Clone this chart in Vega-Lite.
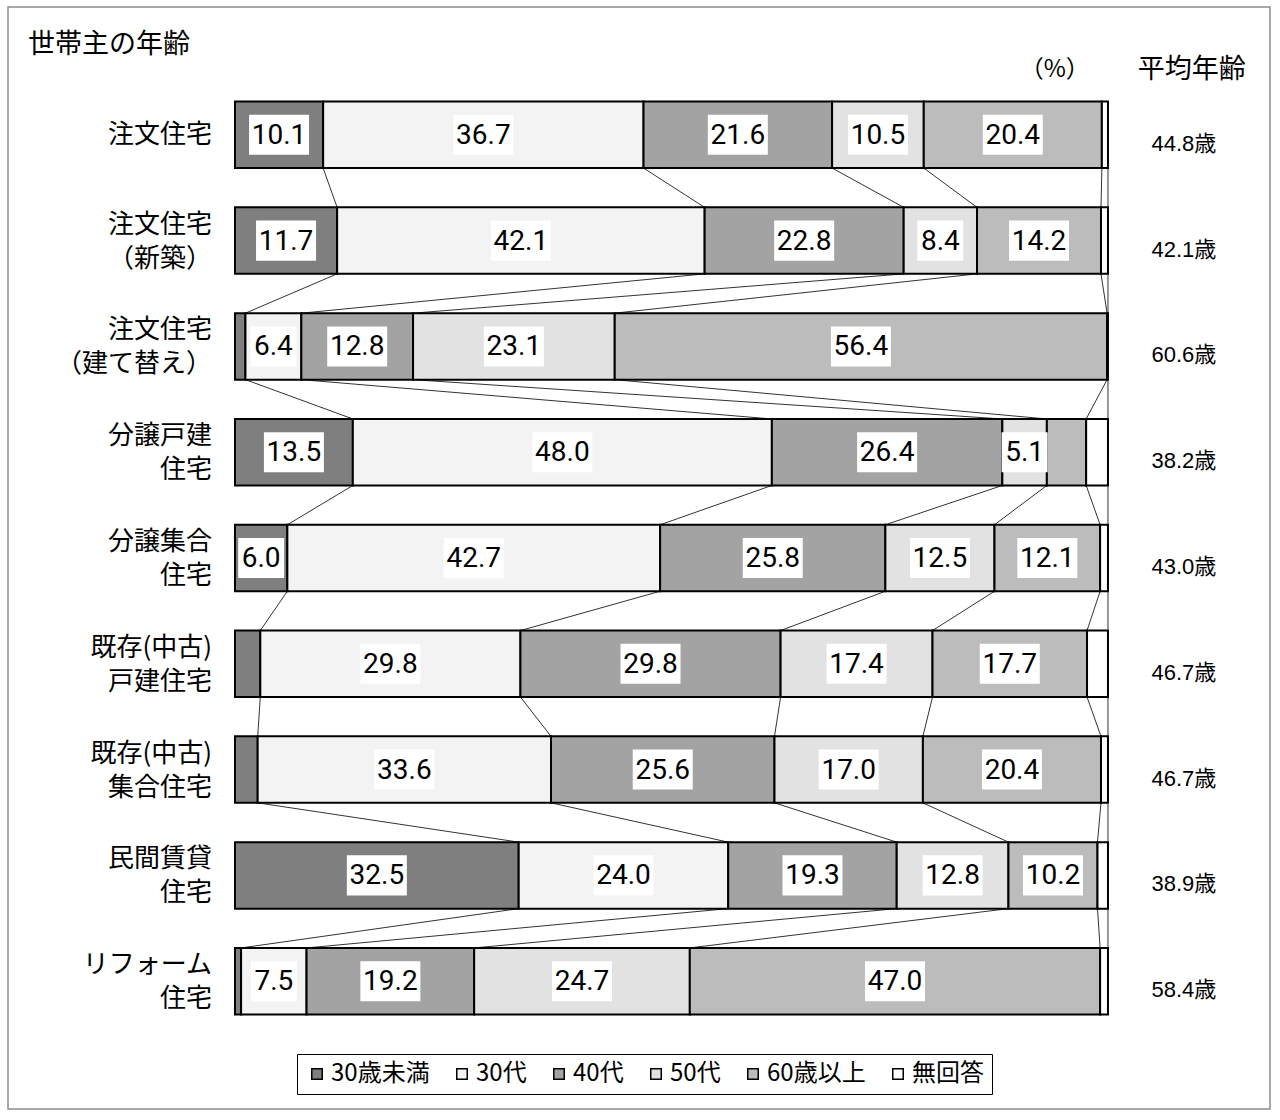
{
  "$schema": "https://vega.github.io/schema/vega-lite/v6.json",
  "description": "世帯主の年齢: 100% stacked bars with connector lines",
  "autosize": {"type": "fit", "contains": "padding"},
  "width": 1280,
  "height": 1120,
  "padding": {"left": 8, "top": 7, "right": 10, "bottom": 11},
  "background": "white",
  "config": {
    "view": {"stroke": "#8c8c8c", "strokeWidth": 1.5},
    "axis": {"disable": true},
    "font": "Noto Sans CJK JP",
    "text": {"font": "Noto Sans CJK JP", "color": "black"}
  },
  "datasets": {
    "bars": [
      {"c": "注文住宅", "s": "30歳未満", "v": 10.1},
      {"c": "注文住宅", "s": "30代", "v": 36.7},
      {"c": "注文住宅", "s": "40代", "v": 21.6},
      {"c": "注文住宅", "s": "50代", "v": 10.5},
      {"c": "注文住宅", "s": "60歳以上", "v": 20.4},
      {"c": "注文住宅", "s": "無回答", "v": 0.7},
      {"c": "注文住宅（新築）", "s": "30歳未満", "v": 11.7},
      {"c": "注文住宅（新築）", "s": "30代", "v": 42.1},
      {"c": "注文住宅（新築）", "s": "40代", "v": 22.8},
      {"c": "注文住宅（新築）", "s": "50代", "v": 8.4},
      {"c": "注文住宅（新築）", "s": "60歳以上", "v": 14.2},
      {"c": "注文住宅（新築）", "s": "無回答", "v": 0.8},
      {"c": "注文住宅（建て替え）", "s": "30歳未満", "v": 1.2},
      {"c": "注文住宅（建て替え）", "s": "30代", "v": 6.4},
      {"c": "注文住宅（建て替え）", "s": "40代", "v": 12.8},
      {"c": "注文住宅（建て替え）", "s": "50代", "v": 23.1},
      {"c": "注文住宅（建て替え）", "s": "60歳以上", "v": 56.4},
      {"c": "注文住宅（建て替え）", "s": "無回答", "v": 0.1},
      {"c": "分譲戸建住宅", "s": "30歳未満", "v": 13.5},
      {"c": "分譲戸建住宅", "s": "30代", "v": 48.0},
      {"c": "分譲戸建住宅", "s": "40代", "v": 26.4},
      {"c": "分譲戸建住宅", "s": "50代", "v": 5.1},
      {"c": "分譲戸建住宅", "s": "60歳以上", "v": 4.5},
      {"c": "分譲戸建住宅", "s": "無回答", "v": 2.5},
      {"c": "分譲集合住宅", "s": "30歳未満", "v": 6.0},
      {"c": "分譲集合住宅", "s": "30代", "v": 42.7},
      {"c": "分譲集合住宅", "s": "40代", "v": 25.8},
      {"c": "分譲集合住宅", "s": "50代", "v": 12.5},
      {"c": "分譲集合住宅", "s": "60歳以上", "v": 12.1},
      {"c": "分譲集合住宅", "s": "無回答", "v": 0.9},
      {"c": "既存（中古）戸建住宅", "s": "30歳未満", "v": 2.9},
      {"c": "既存（中古）戸建住宅", "s": "30代", "v": 29.8},
      {"c": "既存（中古）戸建住宅", "s": "40代", "v": 29.8},
      {"c": "既存（中古）戸建住宅", "s": "50代", "v": 17.4},
      {"c": "既存（中古）戸建住宅", "s": "60歳以上", "v": 17.7},
      {"c": "既存（中古）戸建住宅", "s": "無回答", "v": 2.4},
      {"c": "既存（中古）集合住宅", "s": "30歳未満", "v": 2.6},
      {"c": "既存（中古）集合住宅", "s": "30代", "v": 33.6},
      {"c": "既存（中古）集合住宅", "s": "40代", "v": 25.6},
      {"c": "既存（中古）集合住宅", "s": "50代", "v": 17.0},
      {"c": "既存（中古）集合住宅", "s": "60歳以上", "v": 20.4},
      {"c": "既存（中古）集合住宅", "s": "無回答", "v": 0.8},
      {"c": "民間賃貸住宅", "s": "30歳未満", "v": 32.5},
      {"c": "民間賃貸住宅", "s": "30代", "v": 24.0},
      {"c": "民間賃貸住宅", "s": "40代", "v": 19.3},
      {"c": "民間賃貸住宅", "s": "50代", "v": 12.8},
      {"c": "民間賃貸住宅", "s": "60歳以上", "v": 10.2},
      {"c": "民間賃貸住宅", "s": "無回答", "v": 1.2},
      {"c": "リフォーム住宅", "s": "30歳未満", "v": 0.7},
      {"c": "リフォーム住宅", "s": "30代", "v": 7.5},
      {"c": "リフォーム住宅", "s": "40代", "v": 19.2},
      {"c": "リフォーム住宅", "s": "50代", "v": 24.7},
      {"c": "リフォーム住宅", "s": "60歳以上", "v": 47.0},
      {"c": "リフォーム住宅", "s": "無回答", "v": 0.9}
    ],
    "cats": [
      {"c": "注文住宅", "label": "注文住宅", "avg": 44.8},
      {"c": "注文住宅（新築）", "label": "注文住宅\n（新築）", "avg": 42.1},
      {"c": "注文住宅（建て替え）", "label": "注文住宅\n（建て替え）", "avg": 60.6},
      {"c": "分譲戸建住宅", "label": "分譲戸建\n住宅", "avg": 38.2},
      {"c": "分譲集合住宅", "label": "分譲集合\n住宅", "avg": 43.0},
      {"c": "既存（中古）戸建住宅", "label": "既存(中古)\n戸建住宅", "avg": 46.7},
      {"c": "既存（中古）集合住宅", "label": "既存(中古)\n集合住宅", "avg": 46.7},
      {"c": "民間賃貸住宅", "label": "民間賃貸\n住宅", "avg": 38.9},
      {"c": "リフォーム住宅", "label": "リフォーム\n住宅", "avg": 58.4}
    ]
  },
  "layer": [
    {
      "data": {"name": "bars"},
      "transform": [
        {"calculate": "indexof(['30歳未満','30代','40代','50代','60歳以上','無回答'], datum.s)", "as": "k"},
        {"calculate": "indexof(['注文住宅','注文住宅（新築）','注文住宅（建て替え）','分譲戸建住宅','分譲集合住宅','既存（中古）戸建住宅','既存（中古）集合住宅','民間賃貸住宅','リフォーム住宅'], datum.c)", "as": "ci"},
        {"stack": "v", "groupby": ["c"], "sort": [{"field": "k"}], "as": ["x0", "x1"]},
        {"window": [{"op": "lead", "field": "x1", "as": "nx"}, {"op": "lead", "field": "c", "as": "nc"}], "groupby": ["s"], "sort": [{"field": "ci"}]},
        {"filter": "datum.nc != null"}
      ],
      "mark": {"type": "rule", "stroke": "#333333", "strokeWidth": 1},
      "encoding": {
        "x": {"field": "x1", "type": "quantitative", "scale": {"domain": [-26.0, 118.56], "nice": false, "zero": false}},
        "x2": {"field": "nx"},
        "y": {
          "field": "c", "type": "nominal", "bandPosition": 1,
          "scale": {
            "domain": ["注文住宅", "注文住宅（新築）", "注文住宅（建て替え）", "分譲戸建住宅", "分譲集合住宅", "既存（中古）戸建住宅", "既存（中古）集合住宅", "民間賃貸住宅", "リフォーム住宅"],
            "paddingInner": 0.3715, "paddingOuter": 0.894
          }
        },
        "y2": {"field": "nc", "bandPosition": 0}
      }
    },
    {
      "data": {"name": "bars"},
      "transform": [
        {"calculate": "indexof(['30歳未満','30代','40代','50代','60歳以上','無回答'], datum.s)", "as": "k"},
        {"stack": "v", "groupby": ["c"], "sort": [{"field": "k"}], "as": ["x0", "x1"]}
      ],
      "mark": {"type": "bar", "stroke": "black", "strokeWidth": 2},
      "encoding": {
        "x": {"field": "x0", "type": "quantitative"},
        "x2": {"field": "x1"},
        "y": {"field": "c", "type": "nominal"},
        "fill": {
          "field": "s", "type": "nominal",
          "scale": {
            "domain": ["30歳未満", "30代", "40代", "50代", "60歳以上", "無回答"],
            "range": ["#7f7f7f", "#f3f3f3", "#a3a3a3", "#e2e2e2", "#bcbcbc", "#ffffff"]
          },
          "legend": {
            "orient": "none", "legendX": 289, "legendY": 1047,
            "direction": "horizontal", "columns": 6, "title": null,
            "strokeColor": "black", "fillColor": "white", "padding": 8,
            "labelFont": "Noto Sans CJK JP", "labelFontSize": 24, "labelColor": "black", "labelLimit": 300,
            "symbolType": "square", "symbolSize": 110, "symbolStrokeColor": "black", "symbolStrokeWidth": 1.5,
            "columnPadding": 20, "labelOffset": 2
          }
        }
      }
    },
    {
      "data": {"name": "bars"},
      "transform": [
        {"calculate": "indexof(['30歳未満','30代','40代','50代','60歳以上','無回答'], datum.s)", "as": "k"},
        {"stack": "v", "groupby": ["c"], "sort": [{"field": "k"}], "as": ["x0", "x1"]},
        {"filter": "datum.s != '無回答' && datum.v >= 5"},
        {"calculate": "(datum.x0 + datum.x1) / 2", "as": "m"}
      ],
      "mark": {"type": "point", "filled": true, "fill": "white", "strokeWidth": 0, "opacity": 1},
      "encoding": {
        "x": {"field": "m", "type": "quantitative"},
        "y": {"field": "c", "type": "nominal"},
        "shape": {"condition": {"test": "datum.v >= 10", "value": "M-1,-0.667H1V0.667H-1Z"}, "value": "M-1,-0.87H1V0.87H-1Z"},
        "size": {"condition": {"test": "datum.v >= 10", "value": 3600}, "value": 2116}
      }
    },
    {
      "data": {"name": "bars"},
      "transform": [
        {"calculate": "indexof(['30歳未満','30代','40代','50代','60歳以上','無回答'], datum.s)", "as": "k"},
        {"stack": "v", "groupby": ["c"], "sort": [{"field": "k"}], "as": ["x0", "x1"]},
        {"filter": "datum.s != '無回答' && datum.v >= 5"},
        {"calculate": "(datum.x0 + datum.x1) / 2", "as": "m"}
      ],
      "mark": {"type": "text", "font": "Roboto", "fontSize": 28, "baseline": "middle", "dy": 1},
      "encoding": {
        "x": {"field": "m", "type": "quantitative"},
        "y": {"field": "c", "type": "nominal"},
        "text": {"field": "v", "type": "quantitative", "format": ".1f"}
      }
    },
    {
      "data": {"name": "cats"},
      "transform": [{"filter": "datum.c == '注文住宅'"}],
      "mark": {"type": "text", "align": "right", "baseline": "middle", "fontSize": 26},
      "encoding": {
        "x": {"datum": -2.63},
        "y": {"field": "c", "type": "nominal"},
        "text": {"field": "label"}
      }
    },
    {
      "data": {"name": "cats"},
      "transform": [{"filter": "datum.c != '注文住宅'"}],
      "mark": {"type": "text", "align": "right", "baseline": "middle", "fontSize": 26, "lineBreak": "\n", "lineHeight": 34, "dy": -16},
      "encoding": {
        "x": {"datum": -2.63},
        "y": {"field": "c", "type": "nominal"},
        "text": {"field": "label"}
      }
    },
    {
      "data": {"name": "cats"},
      "transform": [{"calculate": "format(datum.avg, '.1f') + '歳'", "as": "t"}],
      "mark": {"type": "text", "align": "center", "baseline": "middle", "fontSize": 22, "font": "Liberation Sans, Noto Sans CJK JP", "dy": 9},
      "encoding": {
        "x": {"datum": 108.7},
        "y": {"field": "c", "type": "nominal"},
        "text": {"field": "t"}
      }
    },
    {
      "data": {"values": [{}]},
      "mark": {"type": "text", "text": "平均年齢", "align": "center", "baseline": "middle", "fontSize": 27, "dy": -65},
      "encoding": {"x": {"datum": 109.6}, "y": {"datum": "注文住宅", "type": "nominal"}}
    },
    {
      "data": {"values": [{}]},
      "mark": {"type": "text", "text": "（%）", "align": "center", "baseline": "middle", "fontSize": 24, "dy": -65},
      "encoding": {"x": {"datum": 93.9}, "y": {"datum": "注文住宅", "type": "nominal"}}
    },
    {
      "data": {"values": [{}]},
      "mark": {"type": "text", "text": "世帯主の年齢", "align": "left", "baseline": "middle", "fontSize": 27, "dy": -90},
      "encoding": {"x": {"datum": -23.7}, "y": {"datum": "注文住宅", "type": "nominal"}}
    }
  ]
}
